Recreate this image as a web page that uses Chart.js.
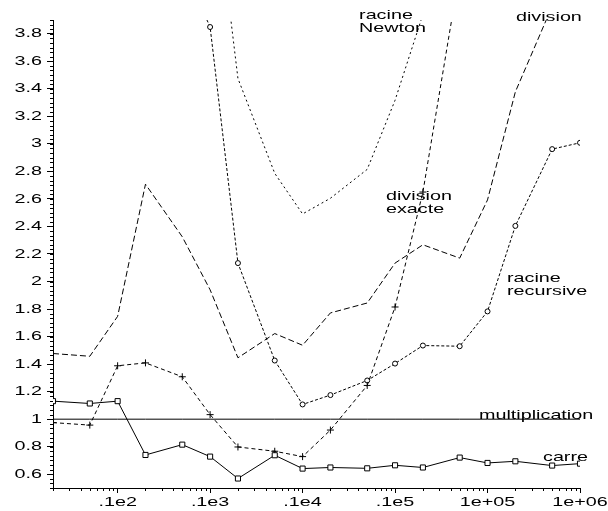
<!DOCTYPE html>
<html><head><meta charset="utf-8">
<script src="https://cdn.jsdelivr.net/npm/chart.js@4/dist/chart.umd.min.js"></script>
<style>html,body{margin:0;padding:0;background:#fff}canvas{display:block}</style>
</head><body>
<canvas id="c" width="608" height="511"></canvas>
<script>
// ---- data ----
const xValues = [2,5,10,20,50,100,200,500,1000,2000,5000,10000,20000,50000,100000,200000,500000,1000000];
const carre = [1.131,1.114,1.131,0.740,0.815,0.728,0.569,0.738,0.641,0.649,0.643,0.665,0.649,0.721,0.682,0.694,0.663,0.677];
const multiplication = [1,1,1,1,1,1,1,1,1,1,1,1,1,1,1,1,1,1];
const division = [1.477,1.457,1.747,2.707,2.325,1.940,1.446,1.622,1.537,1.772,1.844,2.134,2.267,2.170,2.593,3.378,4.000,null];
const divisionExacte = [0.975,0.957,1.388,1.409,1.308,1.033,0.798,0.767,0.728,0.921,1.245,1.815,2.650,4.250,null,null,null,null];
const racineRecursive = [null,null,null,null,4.300,3.849,2.134,1.426,1.107,1.175,1.281,1.404,1.535,1.530,1.783,2.404,2.962,3.008];
const racineNewton = [null,null,null,null,null,5.150,3.475,2.786,2.491,2.605,2.815,3.317,3.940,null,null,null,null,null];

const xTickValues = [10,100,1000,10000,100000,1000000];
const xTickLabels = ['.1e2','.1e3','.1e4','.1e5','1e+05','1e+06'];
const yTickValues = [0.6,0.8,1,1.2,1.4,1.6,1.8,2,2.2,2.4,2.6,2.8,3,3.2,3.4,3.6,3.8];
const yTickLabels = ['0.6','0.8','1','1.2','1.4','1.6','1.8','2','2.2','2.4','2.6','2.8','3','3.2','3.4','3.6','3.8'];

// ---- helpers ----
const FONT = '"Liberation Sans", Arial, Helvetica, sans-serif';
const SX = 1.52; // horizontal stretch of the original's lettering
const pts = arr => xValues.map((x, i) => ({x: x, y: arr[i]}));

const stretchText = {
  id: 'stretchText',
  beforeInit(chart) {
    const ctx = chart.ctx;
    const orig = ctx.fillText;
    ctx.fillText = function (t, x, y, mw) {
      this.save();
      this.translate(x, y);
      this.scale(SX, 1);
      if (mw === undefined) orig.call(this, t, 0, 0); else orig.call(this, t, 0, 0, mw / SX);
      this.restore();
    };
  }
};

const minorTicks = {
  id: 'minorTicks',
  afterDraw(chart) {
    const ctx = chart.ctx, xs = chart.scales.x, ys = chart.scales.y;
    const a = chart.chartArea;
    ctx.save();
    ctx.strokeStyle = '#000';
    ctx.lineWidth = 1;
    ctx.beginPath();
    for (let k = 0; k <= 102; k++) {
      const v = 0.5 + k * 0.2 / 6;
      if (v > ys.max + 1e-9) break;
      const py = Math.round(ys.getPixelForValue(v)) + 0.5;
      ctx.moveTo(a.left - 3, py); ctx.lineTo(a.left, py);
    }
    for (let d = 1; d <= 100000; d *= 10) {
      for (let m = 2; m <= 9; m++) {
        const v = m * d;
        if (v < xs.min || v > xs.max) continue;
        const px = Math.round(xs.getPixelForValue(v)) + 0.5;
        ctx.moveTo(px, a.bottom); ctx.lineTo(px, a.bottom + 3);
      }
    }
    ctx.stroke();
    ctx.restore();
  }
};

const textLabels = {
  id: 'textLabels',
  afterDraw(chart, args, opts) {
    const ctx = chart.ctx, xs = chart.scales.x, ys = chart.scales.y;
    ctx.save();
    ctx.fillStyle = '#000';
    ctx.font = opts.size + 'px ' + FONT;
    ctx.textAlign = 'left';
    ctx.textBaseline = 'alphabetic';
    opts.items.forEach(it => {
      const px = xs.getPixelForValue(it.x), py = ys.getPixelForValue(it.y);
      it.lines.forEach((l, i) => ctx.fillText(l, px, py + i * opts.lineHeight));
    });
    ctx.restore();
  }
};

const base = {borderColor: '#000', borderWidth: 1, tension: 0, pointRadius: 0,
  pointBorderColor: '#000', pointBackgroundColor: '#fff', pointBorderWidth: 1, spanGaps: false};

new Chart(document.getElementById('c'), {
  type: 'line',
  data: {
    datasets: [
      Object.assign({}, base, {label: 'multiplication', data: pts(multiplication)}),
      Object.assign({}, base, {label: 'carre', data: pts(carre), pointStyle: 'rect', pointRadius: 3.6}),
      Object.assign({}, base, {label: 'division', data: pts(division), borderDash: [6, 3]}),
      Object.assign({}, base, {label: 'division exacte', data: pts(divisionExacte), borderDash: [4, 3], pointStyle: 'cross', pointRadius: 3.5}),
      Object.assign({}, base, {label: 'racine recursive', data: pts(racineRecursive), borderDash: [3, 2], pointStyle: 'circle', pointRadius: 2.5}),
      Object.assign({}, base, {label: 'racine Newton', data: pts(racineNewton), borderDash: [2, 3]})
    ]
  },
  options: {
    responsive: false,
    animation: false,
    layout: {padding: {left: 0, top: 20, right: 28, bottom: 0}, autoPadding: false},
    plugins: {
      legend: {display: false},
      tooltip: {enabled: false},
      textLabels: {
        size: 13, lineHeight: 13,
        items: [
          {lines: ['racine', 'Newton'], x: 4080, y: 3.905},
          {lines: ['division'], x: 203000, y: 3.895},
          {lines: ['division', 'exacte'], x: 7980, y: 2.592},
          {lines: ['racine', 'recursive'], x: 162400, y: 1.994},
          {lines: ['multiplication'], x: 80900, y: 1.003},
          {lines: ['carre'], x: 398000, y: 0.696}
        ]
      }
    },
    scales: {
      x: {
        type: 'logarithmic', position: 'bottom', min: 2, max: 1000000,
        afterBuildTicks: s => { s.ticks = xTickValues.map(v => ({value: v})); },
        afterFit: s => { s.height = 23; },
        ticks: {autoSkip: false, maxRotation: 0, minRotation: 0, color: '#000', padding: 2,
          font: {family: FONT, size: 13}, callback: (v, i) => xTickLabels[i]},
        grid: {drawOnChartArea: false, drawTicks: true, tickLength: 5, color: '#000'},
        border: {display: true, color: '#000', width: 1}
      },
      y: {
        type: 'linear', position: 'left', min: 0.5, max: 3.9,
        afterBuildTicks: s => { s.ticks = yTickValues.map(v => ({value: v})); },
        afterFit: s => { s.width = 53; },
        ticks: {color: '#000', padding: 5, font: {family: FONT, size: 13},
          callback: (v, i) => yTickLabels[i]},
        grid: {drawOnChartArea: false, drawTicks: true, tickLength: 6, color: '#000'},
        border: {display: true, color: '#000', width: 1}
      }
    }
  },
  plugins: [stretchText, minorTicks, textLabels]
});
</script>
</body></html>
